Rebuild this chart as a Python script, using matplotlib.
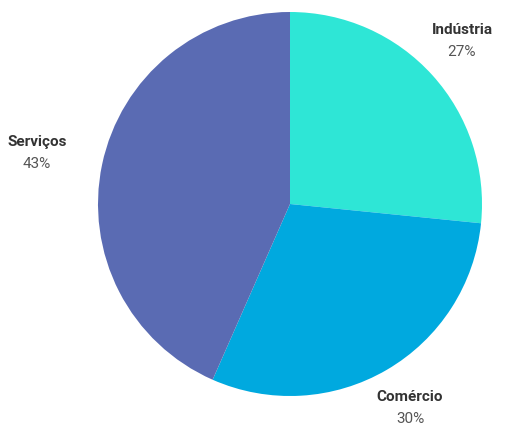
import matplotlib
matplotlib.use("Agg")
from matplotlib import pyplot as plt

# data (shares; labels show rounded values)
sectors = ["Indústria", "Comércio", "Serviços"]
shares = [26.6, 30.0, 43.4]
colors = ["#2EE6D6", "#00A9DF", "#5A6BB3"]

# label anchor positions in pixel space (x, y from top)
label_pos = [(462, 30), (410, 397), (37, 142)]

plt.rcParams['font.family'] = ['Roboto', 'DejaVu Sans']

W, H = 506, 428
fig = plt.figure(figsize=(W / 100, H / 100), dpi=100)
ax = fig.add_axes([0, 0, 1, 1])

cx, cy, r = 290, 204, 192
ax.pie(shares, colors=colors, startangle=90, counterclock=False,
       center=(cx, H - cy), radius=r, frame=True,
       wedgeprops=dict(linewidth=0))
ax.set_xlim(0, W)
ax.set_ylim(0, H)
ax.set_aspect('equal')
ax.axis('off')

for name, val, (x, y) in zip(sectors, shares, label_pos):
    ax.text(x, H - y, name, ha='center', va='center', fontsize=11,
            fontweight='bold', color='#333333')
    ax.text(x, H - y - 22, f"{round(val)}%", ha='center', va='center',
            fontsize=11, color='#555555')

fig.savefig("out.png", dpi=100)
